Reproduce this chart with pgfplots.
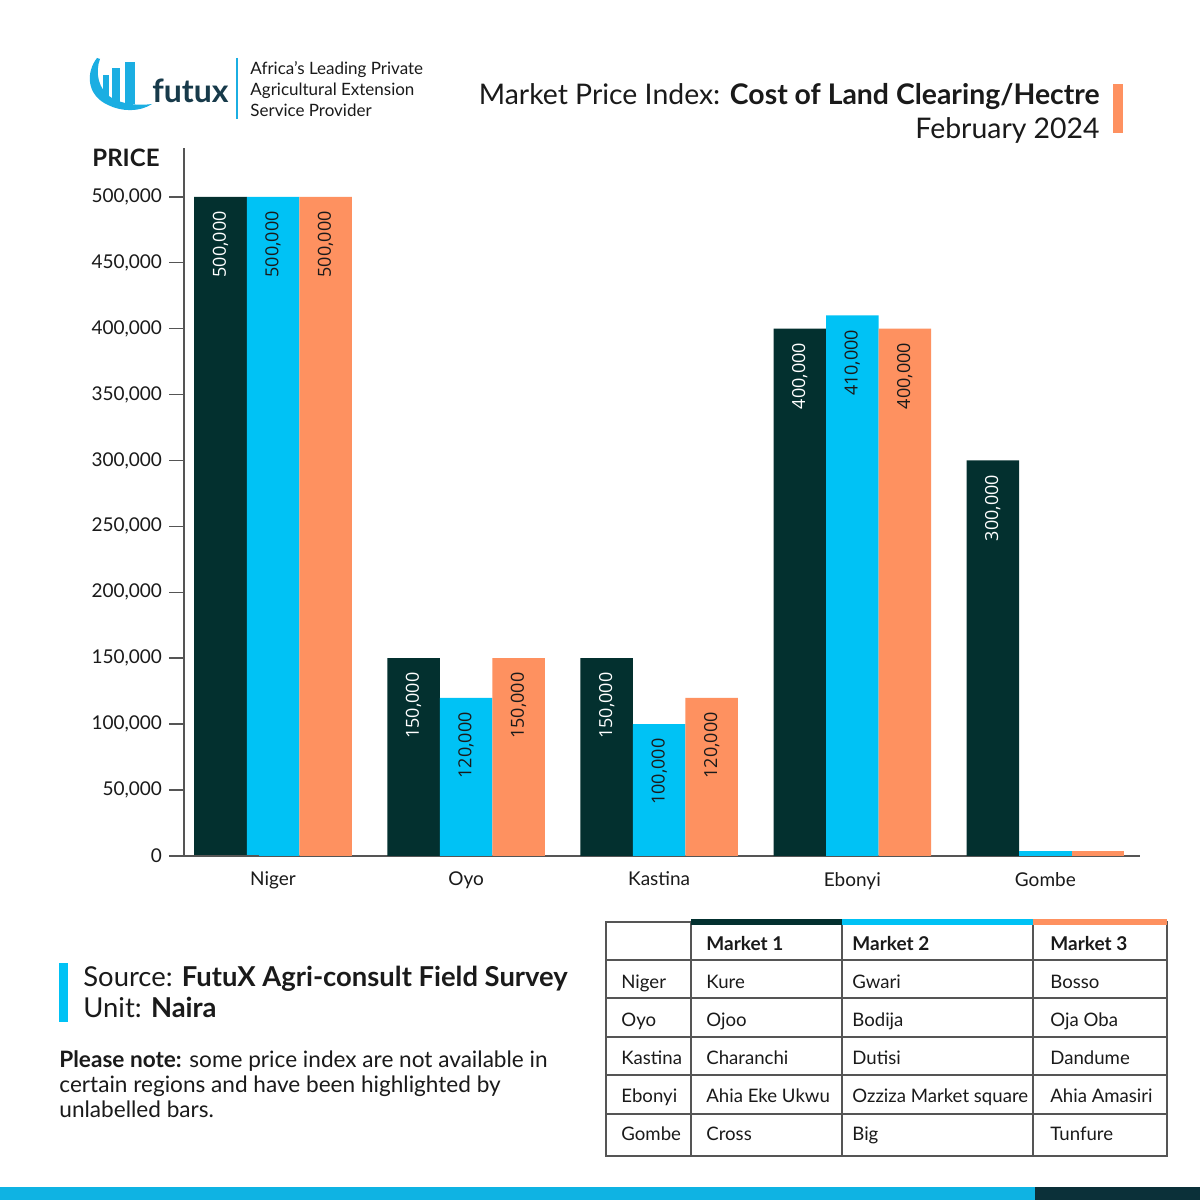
\documentclass[border=0pt]{standalone}
\usepackage{fontspec}
\setmainfont{Lato}
\newfontfamily\opensans{Open Sans}
\usepackage{pgfplots}
\pgfplotsset{compat=1.18}
\definecolor{cDark}{HTML}{03302F}
\definecolor{cCyan}{HTML}{00C2F5}
\definecolor{cOrange}{HTML}{FE9160}
\definecolor{cLogo}{HTML}{1BAEE2}
\definecolor{cLogoText}{HTML}{173A4A}
\definecolor{cStrip}{HTML}{0FB3E3}
\definecolor{cStripDark}{HTML}{0B3039}
\definecolor{cLine}{HTML}{555555}
\definecolor{cText}{HTML}{1A1A1A}
\begin{document}
\begin{tikzpicture}[x=0.5pt,y=0.5pt]
\useasboundingbox[fill=white] (0,0) rectangle (1200,1200);
\begin{axis}[
  at={(92pt,172pt)}, anchor=south west,
  scale only axis, width=478pt, height=354pt,
  xmin=-0.461, xmax=4.49, ymin=0, ymax=537000,
  axis x line*=bottom, axis y line*=left,
  axis line style={cLine, line width=0.8pt},
  ytick={0,50000,100000,150000,200000,250000,300000,350000,400000,450000,500000},
  scaled y ticks=false,
  tick align=outside, major tick length=7.5pt,
  ytick style={cLine, line width=0.8pt},
  yticklabel style={font=\fontsize{9.5}{11}\selectfont, text=cText},
  xtick={0,1,2,3,4},
  xticklabels={Niger,Oyo,Kastina,Ebonyi,Gombe},
  xtick style={draw=none},
  xticklabel style={font=\fontsize{9.5}{11}\selectfont, text=cText, yshift=3pt},
  /pgf/number format/fixed,
  /pgf/number format/1000 sep={,},
  /pgf/number format/assume math mode=true,
  ybar, bar width=0.272,
  every node near coord/.append style={font=\opensans\fontsize{9}{10}\selectfont, rotate=90, anchor=east, inner xsep=7pt, inner ysep=0pt},
  clip=false,
]
\addplot[fill=cDark, draw=none, bar shift=-0.272, nodes near coords, every node near coord/.append style={text=white}]
  coordinates {(0,500000) (1,150000) (2,150000) (3,400000) (4,300000)};
\addplot[fill=cCyan, draw=none, bar shift=0, nodes near coords, every node near coord/.append style={text=cText}]
  coordinates {(0,500000) (1,120000) (2,100000) (3,410000)};
\addplot[fill=cCyan, draw=none, bar shift=0]
  coordinates {(4,4000)};
\addplot[fill=cOrange, draw=none, bar shift=0.272, nodes near coords, every node near coord/.append style={text=cText}]
  coordinates {(0,500000) (1,150000) (2,120000) (3,400000)};
\addplot[fill=cOrange, draw=none, bar shift=0.272]
  coordinates {(4,4000)};
\draw[cLine, line width=0.8pt] (rel axis cs:0,0) -- ++(-7pt,0);
\end{axis}
\begin{scope}[shift={(0,1200)}, y=-0.5pt]
  % logo
  \fill[cLogo] (103,75) rectangle (109,100);
  \fill[cLogo] (112,68) rectangle (120,102);
  \fill[cLogo] (125,62) rectangle (135,104);
  \fill[cLogo] (97,58) .. controls (86,72) and (86,95) .. (108,105)
     .. controls (122,112) and (140,112) .. (152,104)
     .. controls (138,106) and (122,104) .. (112,98)
     .. controls (98,90) and (95,72) .. (100,59) -- cycle;
  \node[anchor=base west, inner sep=0pt, text=cLogoText, font=\bfseries\fontsize{16}{18}\selectfont] at (152,103) {futux};
  \draw[cLogo, line width=1pt] (237,58) -- (237,119);
  \node[anchor=base west, inner sep=0pt, align=left, text=cText, font=\fontsize{8.5}{10.5}\selectfont] at (250,117) {Africa’s Leading Private\\Agricultural Extension\\Service Provider};
  % title
  \node[anchor=base east, inner sep=0pt, text=cText, font=\fontsize{14.2}{16}\selectfont] at (1100,105) {Market Price Index: \textbf{Cost of Land Clearing/Hectre}};
  \node[anchor=base east, inner sep=0pt, text=cText, font=\fontsize{14.2}{16}\selectfont] at (1100,139) {February 2024};
  \fill[cOrange] (1113,84) rectangle (1123,133);
  % y label
  \node[anchor=base, inner sep=0pt, text=cText, font=\bfseries\fontsize{12}{14}\selectfont] at (126,167) {PRICE};
  % source
  \fill[cCyan] (59,963) rectangle (68,1022);
  \node[anchor=base west, inner sep=0pt, text=cText, font=\fontsize{13.7}{16}\selectfont] at (83,987) {Source: \textbf{FutuX Agri-consult Field Survey}};
  \node[anchor=base west, inner sep=0pt, text=cText, font=\fontsize{13.7}{16}\selectfont] at (83,1018) {Unit: \textbf{Naira}};
  \node[anchor=base west, inner sep=0pt, align=left, text=cText, font=\fontsize{11.3}{12.5}\selectfont] at (59,1117) {\textbf{Please note:} some price index are not available in\\certain regions and have been highlighted by\\unlabelled bars.};
  % table
  \draw[cLine, line width=0.6pt] (606,922) rectangle (1167,1156);
  \foreach \yy in {960,998,1037,1075,1114} {\draw[cLine, line width=0.6pt] (606,\yy) -- (1167,\yy);}
  \foreach \xx in {691,842,1033} {\draw[cLine, line width=0.6pt] (\xx,922) -- (\xx,1156);}
  \fill[cDark] (691,919) rectangle (842,925);
  \fill[cCyan] (842,919) rectangle (1033,925);
  \fill[cOrange] (1033,919) rectangle (1167,925);
  \begin{scope}[every node/.style={anchor=base west, inner sep=0pt, text=cText, font=\fontsize{9.3}{11}\selectfont}]
    \node[font=\bfseries\fontsize{9.5}{11}\selectfont] at (706,951) {Market 1};
    \node[font=\bfseries\fontsize{9.5}{11}\selectfont] at (852,951) {Market 2};
    \node[font=\bfseries\fontsize{9.5}{11}\selectfont] at (1050,951) {Market 3};
    \node at (621,989) {Niger};   \node at (706,989) {Kure};          \node at (852,989) {Gwari};                \node at (1050,989) {Bosso};
    \node at (621,1027) {Oyo};    \node at (706,1027) {Ojoo};         \node at (852,1027) {Bodija};              \node at (1050,1027) {Oja Oba};
    \node at (621,1065) {Kastina};\node at (706,1065) {Charanchi};    \node at (852,1065) {Dutisi};              \node at (1050,1065) {Dandume};
    \node at (621,1103) {Ebonyi}; \node at (706,1103) {Ahia Eke Ukwu};\node at (852,1103) {Ozziza Market square};\node at (1050,1103) {Ahia Amasiri};
    \node at (621,1141) {Gombe};  \node at (706,1141) {Cross};        \node at (852,1141) {Big};                 \node at (1050,1141) {Tunfure};
  \end{scope}
  % bottom strip
  \fill[cStrip] (0,1187) rectangle (1035,1200);
  \fill[cStripDark] (1035,1187) rectangle (1200,1200);
\end{scope}
\end{tikzpicture}
\end{document}
